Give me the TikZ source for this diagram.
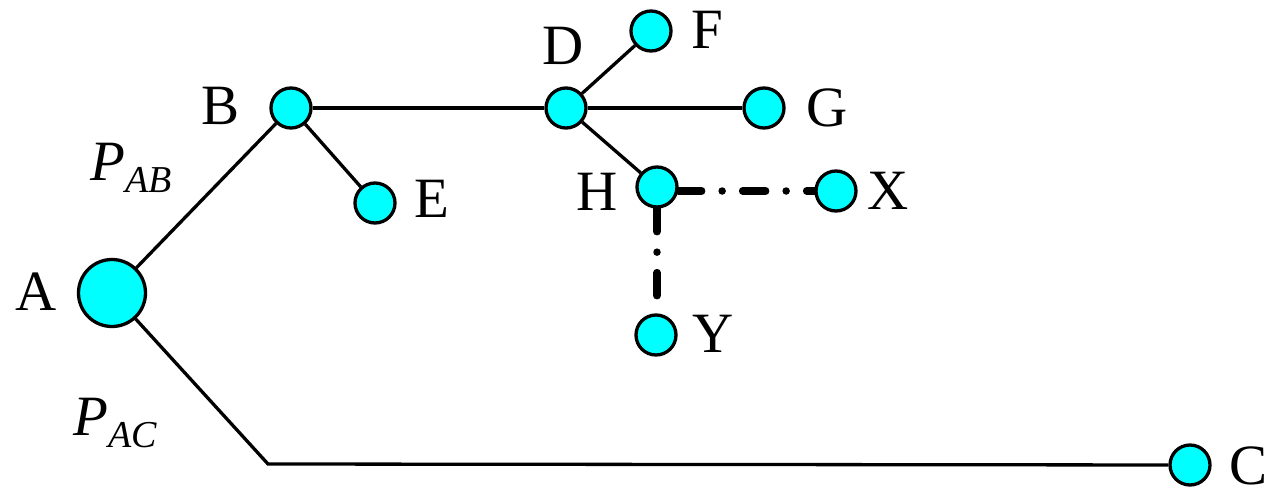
\documentclass[tikz,border=0pt]{standalone}
\usepackage{fontspec}
\setmainfont{Liberation Serif}
\definecolor{nodecyan}{RGB}{0,255,255}
\pgfdeclarelayer{bg}
\pgfsetlayers{bg,main}
\begin{document}
\begin{tikzpicture}[x=1pt,y=-1pt,
  vtx/.style={circle,draw=black,fill=nodecyan,line width=3.3pt,minimum size=40pt,inner sep=0pt},
  bigvtx/.style={vtx,minimum size=67pt},
  lbl/.style={inner sep=0pt,font=\fontsize{57}{60}\selectfont},
  edge/.style={line width=3.3pt},
  dd/.style={line width=7.5pt,line cap=round,dash pattern=on 23pt off 20.5pt on 0pt off 20.5pt}]
\useasboundingbox (0,0) rectangle (1278,490);
\node[bigvtx] (A) at (112,293) {};
\node[vtx] (B) at (291,108) {};
\node[vtx] (E) at (375,203) {};
\node[vtx] (D) at (566,108) {};
\node[vtx] (F) at (651,31) {};
\node[vtx] (G) at (764,108) {};
\node[vtx] (H) at (657,187) {};
\node[vtx] (X) at (836,191) {};
\node[vtx] (Y) at (656,335) {};
\node[vtx] (C) at (1190,465) {};
\coordinate (k) at (268,464);
\begin{pgfonlayer}{bg}
\draw[edge] (A) -- (B);
\draw[edge] (A) -- (k) -- (C);
\draw[edge] (B) -- (D);
\draw[edge] (B) -- (E);
\draw[edge] (D) -- (F);
\draw[edge] (D) -- (G);
\draw[edge] (D) -- (H);
\draw[dd] (H.east |- X.west) -- (X.west);
\draw[dd] (H.south) -- (H.south |- Y.north);
\end{pgfonlayer}
\node[lbl] (lA) at (36,292) {A};
\node[lbl] (lB) at (221,106) {B};
\node[lbl] (lD) at (563,46) {D};
\node[lbl] (lF) at (707,30) {F};
\node[lbl] (lG) at (827,108) {G};
\node[lbl] (lH) at (597,192) {H};
\node[lbl] (lX) at (888,191) {X};
\node[lbl] (lY) at (713,334) {Y};
\node[lbl] (lE) at (432,199) {E};
\node[lbl] (lC) at (1248,466) {C};
\node[lbl,anchor=base west] (pab) at (90,180) {\textit{P}\raisebox{-12pt}{\fontsize{38}{38}\selectfont\textit{AB}}};
\node[lbl,anchor=base west] (pac) at (73,435) {\textit{P}\raisebox{-12pt}{\fontsize{38}{38}\selectfont\textit{AC}}};
\end{tikzpicture}
\end{document}
